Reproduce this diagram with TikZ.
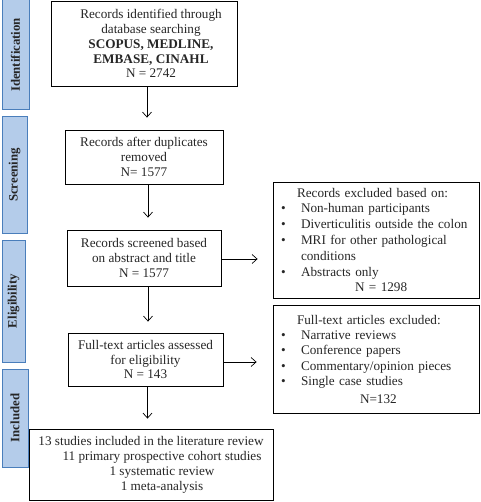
\documentclass[tikz,border=0pt]{standalone}
\usepackage{fontspec}
\setmainfont{Liberation Serif}
\usetikzlibrary{arrows.meta}
\definecolor{stagefill}{HTML}{B4CCEA}
\definecolor{stageedge}{HTML}{4A7EBB}
\definecolor{inkgray}{HTML}{262626}
\newcommand{\bulitem}{\makebox[25pt][l]{\hspace*{5pt}\textbullet}}
\begin{document}
\begin{tikzpicture}[x=1pt,y=-1pt,
  box/.style={draw=black,line width=0.8pt,inner sep=0pt,align=center,text=inkgray,
    font=\fontsize{13.2}{14.9}\selectfont},
  listbox/.style={box,align=left,font=\fontsize{13.2}{15.4}\selectfont},
  stage/.style={draw=stageedge,fill=stagefill,line width=1pt,inner sep=0pt,rotate=90,
    font=\bfseries\fontsize{12.8}{14}\selectfont,text=inkgray},
  arr/.style={line width=0.7pt,-{Straight Barb[length=5pt,width=9pt,line width=0.7pt]}}]
\useasboundingbox (0,0) rectangle (480,502);
% stage labels
\node[stage,minimum width=110pt,minimum height=27pt] (s1) at (15.5,55) {Identification};
\node[stage,minimum width=116pt,minimum height=25pt] (s2) at (14.5,175) {Screening};
\node[stage,minimum width=122pt,minimum height=23pt] (s3) at (13.5,301) {Eligibility};
\node[stage,minimum width=98pt,minimum height=26pt] (s4) at (15,418) {Included};
% main boxes
\node[box,minimum width=186pt,minimum height=85pt] (b1) at (144,43.5)
  {\hspace*{14pt}Records identified through\\\hspace*{14pt}database searching\\\hspace*{14pt}\textbf{SCOPUS, MEDLINE,}\\\hspace*{14pt}\textbf{EMBASE, CINAHL}\\\hspace*{14pt}N = 2742};
\node[box,minimum width=158pt,minimum height=54pt] (b2) at (144,157)
  {Records after duplicates\\removed\\N= 1577};
\node[box,minimum width=154pt,minimum height=56pt] (b3) at (144,258)
  {Records screened based\\on abstract and title\\N = 1577};
\node[box,minimum width=155pt,minimum height=53pt] (b4) at (145.5,359.5)
  {Full-text articles assessed\\for eligibility\\N = 143};
\node[box,minimum width=244pt,minimum height=71pt] (b5) at (151,464.5)
  {13 studies included in the literature review\\\hspace*{22pt}11 primary prospective cohort studies\\\hspace*{22pt}1 systematic review\\\hspace*{22pt}1 meta-analysis};
% exclusion boxes
\node[listbox,minimum width=206pt,minimum height=116pt,text width=200pt,
  font=\fontsize{13.2}{15.8}\selectfont] (ea) at (376,240)
  {\hspace*{21pt}Records excluded based on:\\
   \bulitem Non-human participants\\
   \bulitem Diverticulitis outside the colon\\
   \bulitem MRI for other pathological\\
   \hspace*{25pt}conditions\\
   \bulitem Abstracts only\\
   \hspace*{79pt}N = 1298};
\node[listbox,minimum width=206pt,minimum height=108pt,text width=200pt] (eb) at (376,359)
  {\hspace*{21pt}Full-text articles excluded:\\
   \bulitem Narrative reviews\\
   \bulitem Conference papers\\
   \bulitem Commentary/opinion pieces\\
   \bulitem Single case studies\\[2pt]
   \hspace*{84pt}N=132};
% connectors
\draw[arr,shorten >=12pt] ([xshift=3pt]b1.south) -- ([xshift=3pt]b1.south |- b2.north);
\draw[arr,shorten >=12pt] ([xshift=4pt]b2.south) -- ([xshift=4pt]b2.south |- b3.north);
\draw[arr,shorten >=11pt] ([xshift=4pt]b3.south) -- ([xshift=4pt]b3.south |- b4.north);
\draw[arr,shorten >=10pt] ([xshift=2pt]b4.south) -- ([xshift=2pt]b4.south |- b5.north);
\draw[arr,shorten >=15pt] ([yshift=-1pt]b3.east) -- ([yshift=-1pt]b3.east -| ea.west);
\draw[arr,shorten >=16pt] ([yshift=-2.5pt]b4.east) -- ([yshift=-2.5pt]b4.east -| eb.west);
\end{tikzpicture}
\end{document}
